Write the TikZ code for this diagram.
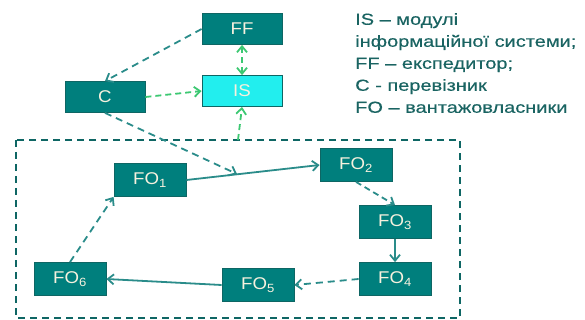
\documentclass[tikz,border=0pt]{standalone}
\usepackage{fontspec}
\setmainfont{Liberation Sans}[FakeStretch=1.1]
\newfontfamily\legendfont{Liberation Sans}[FakeStretch=1.25,FakeBold=0.4,Ligatures=TeX]
\usetikzlibrary{arrows.meta}
\definecolor{tealbox}{HTML}{007F7D}
\definecolor{tealline}{HTML}{0E6664}
\definecolor{tealedge}{HTML}{2A8C8A}
\definecolor{isfill}{HTML}{22EEEE}
\definecolor{greenarr}{HTML}{3CC872}
\definecolor{nodetext}{HTML}{F6F1DE}
\definecolor{legendtext}{HTML}{1A6462}

\begin{document}
\begin{tikzpicture}[x=1pt,y=-1pt]
\useasboundingbox (0,0) rectangle (585,320);
\draw[tealline,line width=1.6pt,dash pattern=on 7pt off 5pt] (16,140) rectangle (460,318);
\begin{scope}[every node/.style={rectangle,draw=tealline,fill=tealbox,text=nodetext,thick,
              minimum width=80pt,minimum height=31pt,font=\fontsize{17}{17}\selectfont}]
    \node (FF) at (242,29) {FF};
    \node[fill=isfill] (IS) at (242,91) {IS};
    \node (C) at (105,97) {C};
\end{scope}
\begin{scope}[every node/.style={rectangle,draw=tealline,fill=tealbox,text=nodetext,thick,
              minimum width=72pt,minimum height=33pt,font=\fontsize{17}{17}\selectfont}]
    \node (FO1) at (150,180) {FO\textsubscript{1}};
    \node (FO2) at (356,165) {FO\textsubscript{2}};
    \node (FO3) at (395,222) {FO\textsubscript{3}};
    \node (FO4) at (395,279) {FO\textsubscript{4}};
    \node (FO5) at (258,285) {FO\textsubscript{5}};
    \node (FO6) at (70,279) {FO\textsubscript{6}};
\end{scope}
\node[anchor=north west,inner sep=0pt,align=left,text=legendtext,
      font=\legendfont\fontsize{16}{22}\selectfont] (legend) at (355,13)
    {IS – модулі\\інформаційної системи;\\FF – експедитор;\\C - перевізник\\FO – вантажовласники};
\coordinate (J) at (237,174);
\coordinate (K) at (238,140);
\begin{scope}[>={Straight Barb[length=6pt,width=10pt]},
              every edge/.style={draw=tealedge,line width=1.8pt}]
    \path [->,dash pattern=on 7pt off 5pt] (FF.west) edge (C.north);
    \path [->,dash pattern=on 7pt off 5pt] (C.south) edge (J);
    \path [->] (FO1.east) edge (FO2.west);
    \path [->,dash pattern=on 6pt off 4pt] (FO2.south) edge (FO3.north);
    \path [->] (FO3.south) edge (FO4.north);
    \path [->,dash pattern=on 7pt off 5pt] (FO4.west) edge (FO5.east);
    \path [->] (FO5.west) edge (FO6.east);
    \path [->,dash pattern=on 7pt off 5pt] (FO6.north) edge (FO1.south west);
\end{scope}
\begin{scope}[>={Straight Barb[length=6pt,width=10pt]},
              every edge/.style={draw=greenarr,line width=1.8pt,dash pattern=on 6pt off 4pt}]
    \path [<->] (FF.south) edge (IS.north);
    \path [->] (C.east) edge (IS.west);
    \path [->] (K) edge (IS.south);
\end{scope}
\end{tikzpicture}
\end{document}
